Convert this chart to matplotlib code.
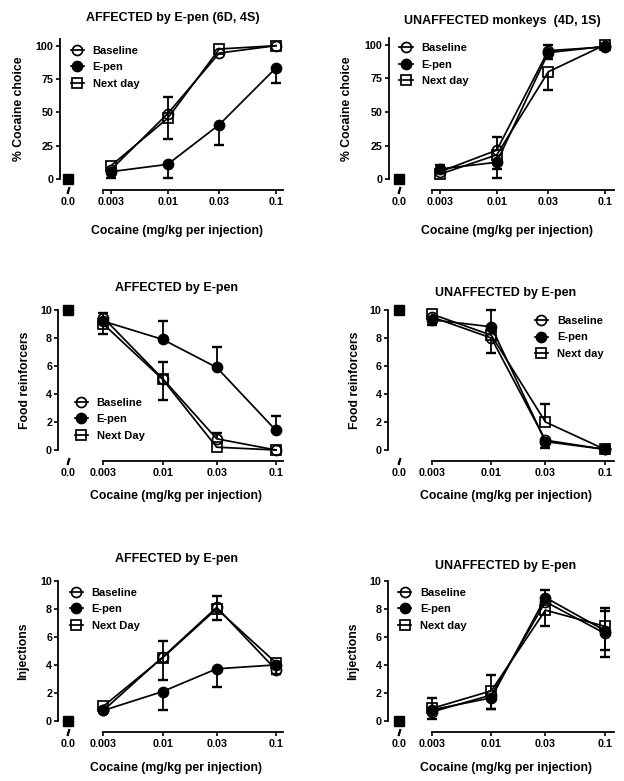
import numpy as np
import matplotlib.pyplot as plt
from matplotlib import transforms

plt.rcParams['font.family'] = ['Liberation Sans', 'DejaVu Sans']
plt.rcParams['font.weight'] = 'bold'
plt.rcParams['axes.labelweight'] = 'bold'
plt.rcParams['axes.titleweight'] = 'bold'

# doses (mg/kg per injection)
doses = [0.003, 0.01, 0.03, 0.1]
dose_labels = ['0.003', '0.01', '0.03', '0.1']

# % cocaine choice, affected monkeys
aff_choice_base = [7, 49, 94.5, 100]
aff_choice_epen = [5.5, 11, 40.8, 83.3]
aff_choice_next = [10, 45.5, 97.5, 100]
aff_choice_base_err = ([0, 0, 0, 0], [0, 0, 0, 0])      # (below, above)
aff_choice_epen_err = ([4.5, 10, 15, 11.4], [0, 0, 0, 0])
aff_choice_next_err = ([0, 15.7, 0, 0], [0, 15.7, 0, 0])

# % cocaine choice, unaffected monkeys
un_choice_base = [5.5, 21.5, 95.8, 98.5]
un_choice_epen = [7.5, 12.5, 94.3, 99]
un_choice_next = [3.7, 18, 80, 100]
un_choice_base_err = ([0, 0, 0, 0], [0, 10, 4, 0])
un_choice_epen_err = ([0, 11.5, 5, 0], [3, 0, 0, 0])
un_choice_next_err = ([0, 10.7, 13.7, 0], [0, 0, 0, 0])

# food reinforcers, affected
aff_food_base = [9.45, 5.1, 0.8, 0]
aff_food_epen = [9.2, 7.9, 5.9, 1.4]
aff_food_next = [9.0, 5.05, 0.2, 0]
aff_food_base_err = ([0, 0, 0, 0], [0.35, 0, 0.45, 0])
aff_food_epen_err = ([0, 0, 0, 0], [0, 1.33, 1.48, 1.03])
aff_food_next_err = ([0.7, 1.45, 0, 0], [0, 1.25, 0, 0])

# food reinforcers, unaffected
un_food_base = [9.5, 8.0, 0.7, 0.05]
un_food_epen = [9.3, 8.8, 0.6, 0.05]
un_food_next = [9.7, 8.2, 2.0, 0.05]
un_food_base_err = ([0, 1.05, 0, 0], [0, 0, 0, 0])
un_food_epen_err = ([0.4, 0, 0.45, 0], [0, 1.2, 0, 0])
un_food_next_err = ([0, 0, 0, 0], [0, 0, 1.3, 0])

# injections, affected
aff_inj_base = [0.75, 4.55, 8.1, 3.65]
aff_inj_epen = [0.75, 2.1, 3.72, 4.0]
aff_inj_next = [1.05, 4.5, 8.0, 4.15]
aff_inj_base_err = ([0, 0, 0, 0.33], [0, 1.15, 0.83, 0])
aff_inj_epen_err = ([0, 1.3, 1.3, 0], [0, 0, 0, 0])
aff_inj_next_err = ([0, 1.55, 0.8, 0], [0, 0, 0, 0])

# injections, unaffected
un_inj_base = [0.65, 1.85, 8.5, 6.25]
un_inj_epen = [0.8, 1.65, 8.8, 6.45]
un_inj_next = [0.9, 2.15, 7.9, 6.75]
un_inj_base_err = ([0, 0.99, 0, 1.19], [0, 0, 0, 0])
un_inj_epen_err = ([0.66, 0.79, 0, 0], [0, 0, 0.53, 1.4])
un_inj_next_err = ([0, 0, 1.13, 2.17], [0.76, 1.13, 0, 1.33])

# saline (0.0) values
ctrl_choice = 0
ctrl_food = 10
ctrl_inj = 0

W, H = 624, 781
fig = plt.figure(figsize=(W / 100, H / 100), dpi=100)

styles = {
    'Baseline': dict(marker='o', mfc='none', z=3),
    'Next day': dict(marker='s', mfc='none', z=4),
    'E-pen': dict(marker='o', mfc='k', z=5),
}


def panel(box, xlim, x_start, ctrl_x, ytop, yticks, ctrl_y, data,
          title, title_x, title_pad, ylabel, ylabel_pad, xlabel_pad, leg_xy, next_label):
    left, right, top, bottom = box
    ax = fig.add_axes([left / W, 1 - bottom / H, (right - left) / W, (bottom - top) / H])
    x = np.log10(doses)
    handles = {}
    for name, y, err in data:
        st = styles[name]
        y = np.asarray(y, float)
        ln, = ax.plot(x, y, color='k', lw=1.25, marker=st['marker'], ms=7.2,
                      mfc=st['mfc'], mec='k', mew=1.25, clip_on=False, zorder=st['z'])
        handles[name] = ln
        for e, sgn in ((np.asarray(err[0], float), -1), (np.asarray(err[1], float), 1)):
            m = e > 0
            ends = y[m] + sgn * e[m]
            ax.vlines(x[m], y[m], ends, color='k', lw=1.3, zorder=2)
            ax.plot(x[m], ends, ls='none', marker='_', ms=7, mew=1.7, color='k',
                    clip_on=False, zorder=2)
    ax.plot([ctrl_x], [ctrl_y], ls='none', marker='s', ms=7.2, color='k', clip_on=False, zorder=6)

    ax.set_xlim(*xlim)
    ax.set_ylim(0, ytop)
    ax.set_yticks(yticks)
    ax.set_xticks([ctrl_x] + list(x), ['0.0'] + dose_labels)
    ax.xaxis.get_major_ticks()[0].tick1line.set_visible(False)
    if x_start < x[0] - 1e-6:
        ax.set_xticks([x_start], minor=True)
        ax.tick_params(axis='x', which='minor', length=3, width=1.1, labelbottom=False)
    for s in ('top', 'right'):
        ax.spines[s].set_visible(False)
    off_px = 11
    ax.spines['bottom'].set_position(('outward', off_px * 0.72))
    ax.spines['bottom'].set_bounds(x_start, xlim[1])
    ax.spines['bottom'].set_linewidth(1.3)
    ax.spines['left'].set_linewidth(1.3)
    ax.tick_params(axis='both', which='major', direction='out', length=3, width=1.2,
                   labelsize=7.7, colors='k')
    ax.tick_params(axis='x', pad=1.7)
    ax.tick_params(axis='y', pad=1.5)

    # axis break mark under the 0.0 point
    tr = transforms.blended_transform_factory(ax.transData, ax.transAxes)
    ax.plot([ctrl_x], [-off_px / (bottom - top)], transform=tr, ls='none',
            marker=[(-0.3, -1), (0.3, 1)], ms=5, mew=1.6, color='k', clip_on=False)

    ax.set_title(title, x=title_x, pad=title_pad, fontsize=9)
    ax.set_xlabel('Cocaine (mg/kg per injection)', x=0.525, labelpad=xlabel_pad, fontsize=8.8)
    ax.set_ylabel(ylabel, labelpad=ylabel_pad, fontsize=8.8)

    ax.legend([handles['Baseline'], handles['E-pen'], handles['Next day']],
              ['Baseline', 'E-pen', next_label], loc='upper left',
              bbox_to_anchor=(leg_xy[0] / W, 1 - leg_xy[1] / H),
              bbox_transform=fig.transFigure, frameon=False, fontsize=8,
              handlelength=1.2, handletextpad=0.8, labelspacing=0.58,
              borderpad=0, borderaxespad=0)
    return ax


panel((60, 283, 39, 179), (-2.994, -0.935), -2.594, -2.920, 105, [0, 25, 50, 75, 100],
      ctrl_choice,
      [('Baseline', aff_choice_base, aff_choice_base_err),
       ('Next day', aff_choice_next, aff_choice_next_err),
       ('E-pen', aff_choice_epen, aff_choice_epen_err)],
      'AFFECTED by E-pen (6D, 4S)', 0.507, 13.2, '% Cocaine choice', 7.8, 13,
      (70.5, 45.8), 'Next day')

panel((388.7, 613.7, 38.3, 179), (-3.001, -0.917), -2.600, -2.905, 105, [0, 25, 50, 75, 100],
      ctrl_choice,
      [('Baseline', un_choice_base, un_choice_base_err),
       ('Next day', un_choice_next, un_choice_next_err),
       ('E-pen', un_choice_epen, un_choice_epen_err)],
      'UNAFFECTED monkeys  (4D, 1S)', 0.504, 10.3, '% Cocaine choice', 8.3, 13,
      (399.5, 43.2), 'Next day')

panel((58.3, 283, 310, 450), (-2.920, -0.938), np.log10(0.003), -2.834, 10, [0, 2, 4, 6, 8, 10],
      ctrl_food,
      [('Baseline', aff_food_base, aff_food_base_err),
       ('Next day', aff_food_next, aff_food_next_err),
       ('E-pen', aff_food_epen, aff_food_epen_err)],
      'AFFECTED by E-pen', 0.527, 13.7, 'Food reinforcers', 6.6, 8.7,
      (74.5, 397.8), 'Next Day')

panel((388, 613.7, 310, 450), (-2.911, -0.921), np.log10(0.003), -2.814, 10, [0, 2, 4, 6, 8, 10],
      ctrl_food,
      [('Baseline', un_food_base, un_food_base_err),
       ('Next day', un_food_next, un_food_next_err),
       ('E-pen', un_food_epen, un_food_epen_err)],
      'UNAFFECTED by E-pen', 0.522, 10, 'Food reinforcers', 6.3, 8.7,
      (534.8, 316), 'Next day')

panel((58.3, 283, 580.7, 721), (-2.920, -0.938), np.log10(0.003), -2.834, 10, [0, 2, 4, 6, 8, 10],
      ctrl_inj,
      [('Baseline', aff_inj_base, aff_inj_base_err),
       ('Next day', aff_inj_next, aff_inj_next_err),
       ('E-pen', aff_inj_epen, aff_inj_epen_err)],
      'AFFECTED by E-pen', 0.527, 13.2, 'Injections', 8.2, 9.5,
      (69.5, 587.8), 'Next Day')

panel((388, 613.7, 580.7, 721), (-2.911, -0.921), np.log10(0.003), -2.814, 10, [0, 2, 4, 6, 8, 10],
      ctrl_inj,
      [('Baseline', un_inj_base, un_inj_base_err),
       ('Next day', un_inj_next, un_inj_next_err),
       ('E-pen', un_inj_epen, un_inj_epen_err)],
      'UNAFFECTED by E-pen', 0.522, 8.2, 'Injections', 7.6, 9.5,
      (398.1, 587.8), 'Next day')

fig.savefig('out.png', dpi=100)
